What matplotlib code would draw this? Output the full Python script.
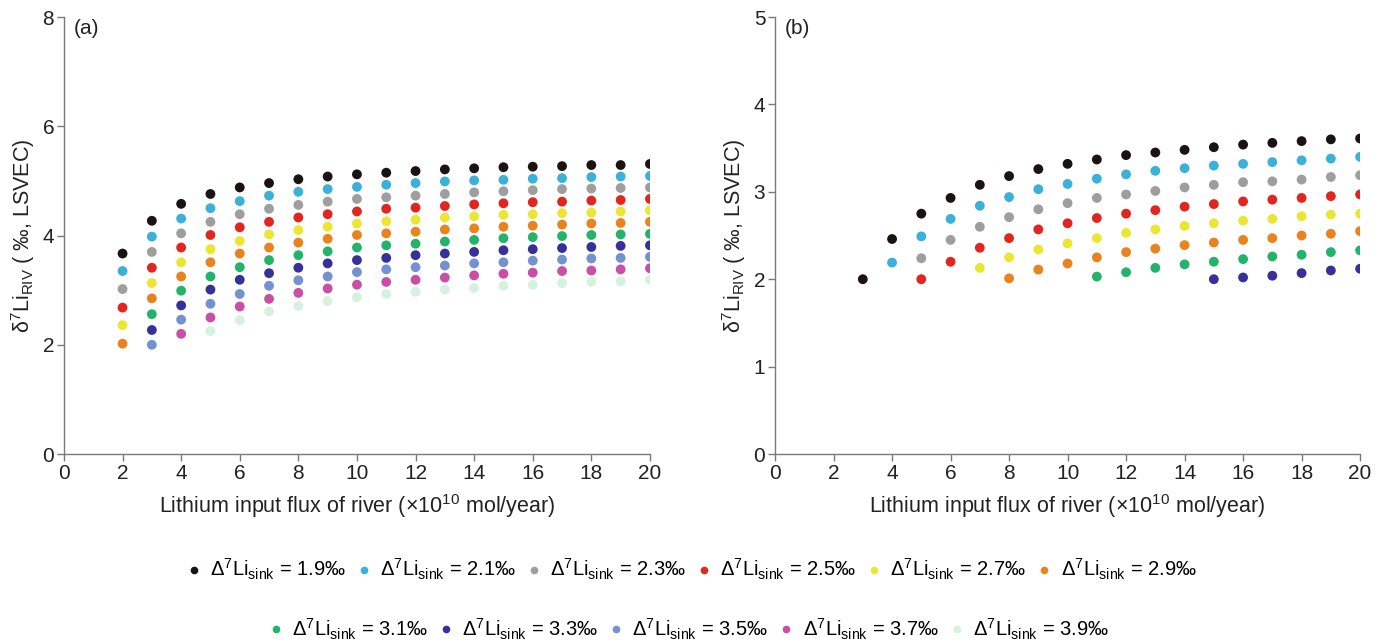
import numpy as np
import matplotlib
matplotlib.use("Agg")
import matplotlib.pyplot as plt
from matplotlib.lines import Line2D

plt.rcParams['font.family'] = ['Liberation Sans', 'DejaVu Sans']
plt.rcParams['mathtext.fontset'] = 'custom'
plt.rcParams['mathtext.rm'] = 'Liberation Sans'
plt.rcParams['mathtext.it'] = 'Liberation Sans:italic'
plt.rcParams['mathtext.bf'] = 'Liberation Sans:bold'

nan = np.nan

# Δ7Li_sink values and their colours
sink = ['1.9', '2.1', '2.3', '2.5', '2.7', '2.9', '3.1', '3.3', '3.5', '3.7', '3.9']
colors = ['#1a1311', '#3bb1d9', '#9e9e9e', '#e2261f', '#ebe632', '#e8831f',
          '#24b36a', '#38309a', '#7491d0', '#c94fa6', '#d6f2de']

# panel (a): river flux 2..20
flux_a = list(range(2, 21))
d7li_a = [
    [3.67, 4.27, 4.58, 4.76, 4.88, 4.96, 5.03, 5.08, 5.12, 5.15, 5.18, 5.21, 5.23, 5.25, 5.26, 5.27, 5.29, 5.29, 5.31],
    [3.35, 3.98, 4.31, 4.50, 4.63, 4.73, 4.80, 4.85, 4.89, 4.93, 4.96, 4.99, 5.01, 5.02, 5.04, 5.05, 5.07, 5.08, 5.09],
    [3.02, 3.70, 4.04, 4.25, 4.39, 4.49, 4.56, 4.62, 4.67, 4.70, 4.73, 4.76, 4.79, 4.81, 4.83, 4.85, 4.86, 4.87, 4.88],
    [2.68, 3.41, 3.78, 4.01, 4.15, 4.25, 4.33, 4.39, 4.44, 4.49, 4.51, 4.54, 4.57, 4.59, 4.61, 4.62, 4.64, 4.65, 4.67],
    [2.36, 3.13, 3.51, 3.75, 3.90, 4.02, 4.10, 4.16, 4.22, 4.26, 4.29, 4.33, 4.35, 4.38, 4.39, 4.41, 4.42, 4.44, 4.46],
    [2.02, 2.85, 3.25, 3.51, 3.67, 3.78, 3.87, 3.94, 4.01, 4.04, 4.07, 4.11, 4.13, 4.16, 4.18, 4.20, 4.22, 4.23, 4.25],
    [nan, 2.56, 2.99, 3.25, 3.42, 3.55, 3.64, 3.71, 3.78, 3.82, 3.85, 3.89, 3.92, 3.95, 3.97, 3.99, 4.01, 4.02, 4.03],
    [nan, 2.27, 2.72, 3.01, 3.19, 3.31, 3.41, 3.49, 3.55, 3.59, 3.64, 3.67, 3.70, 3.73, 3.75, 3.77, 3.79, 3.81, 3.82],
    [nan, 2.00, 2.46, 2.75, 2.93, 3.08, 3.18, 3.25, 3.33, 3.38, 3.42, 3.45, 3.49, 3.51, 3.54, 3.56, 3.58, 3.59, 3.61],
    [nan, nan, 2.20, 2.50, 2.70, 2.84, 2.95, 3.03, 3.10, 3.15, 3.19, 3.23, 3.27, 3.30, 3.32, 3.35, 3.36, 3.38, 3.40],
    [nan, nan, nan, 2.25, 2.45, 2.61, 2.71, 2.80, 2.87, 2.93, 2.97, 3.01, 3.04, 3.08, 3.10, 3.13, 3.15, 3.16, 3.19],
]

# panel (b): river flux 3..20
flux_b = list(range(3, 21))
d7li_b = [
    [2.00, 2.46, 2.75, 2.93, 3.08, 3.18, 3.26, 3.32, 3.37, 3.42, 3.45, 3.48, 3.51, 3.54, 3.56, 3.58, 3.60, 3.61],
    [nan, 2.19, 2.49, 2.69, 2.84, 2.94, 3.03, 3.09, 3.15, 3.20, 3.24, 3.27, 3.30, 3.32, 3.34, 3.36, 3.38, 3.40],
    [nan, nan, 2.24, 2.45, 2.60, 2.71, 2.80, 2.87, 2.93, 2.97, 3.01, 3.05, 3.08, 3.11, 3.12, 3.14, 3.17, 3.19],
    [nan, nan, 2.00, 2.20, 2.36, 2.47, 2.57, 2.64, 2.70, 2.75, 2.79, 2.83, 2.86, 2.89, 2.91, 2.93, 2.95, 2.97],
    [nan, nan, nan, nan, 2.13, 2.25, 2.34, 2.41, 2.47, 2.53, 2.57, 2.61, 2.64, 2.67, 2.69, 2.72, 2.74, 2.75],
    [nan, nan, nan, nan, nan, 2.01, 2.11, 2.18, 2.25, 2.31, 2.35, 2.39, 2.42, 2.45, 2.47, 2.50, 2.52, 2.55],
    [nan, nan, nan, nan, nan, nan, nan, nan, 2.03, 2.08, 2.13, 2.17, 2.20, 2.23, 2.26, 2.28, 2.31, 2.33],
    [nan, nan, nan, nan, nan, nan, nan, nan, nan, nan, nan, nan, 2.00, 2.02, 2.04, 2.07, 2.10, 2.12],
]

fig = plt.figure(figsize=(13.87, 6.42), dpi=100)
ax_a = fig.add_axes([0.0461, 0.2928, 0.4225, 0.6807])
ax_b = fig.add_axes([0.5588, 0.2928, 0.4218, 0.6807])

spine_c = '#7a7a7a'
txt_c = '#222222'
xlab = r'Lithium input flux of river (×10$^{10}$ mol/year)'
ylab = r'δ$^{7}$Li$_{\rm RIV}$ ( ‰, LSVEC)'

for ax, xs, data, ymax, tag in [(ax_a, flux_a, d7li_a, 8, '(a)'),
                                 (ax_b, flux_b, d7li_b, 5, '(b)')]:
    for i, ys in enumerate(data):
        ax.scatter(xs, ys, s=50, color=colors[i], edgecolors='none', zorder=3)
    ax.set_xlim(0, 20)
    ax.set_ylim(0, ymax)
    ax.set_xticks(range(0, 21, 2))
    ax.set_yticks(range(0, ymax + 1, 2 if ymax == 8 else 1))
    for s in ['top', 'right']:
        ax.spines[s].set_visible(False)
    for s in ['left', 'bottom']:
        ax.spines[s].set_color(spine_c)
        ax.spines[s].set_linewidth(1.0)
    ax.tick_params(direction='out', length=5, width=1.0, color=spine_c,
                   labelsize=15, labelcolor=txt_c, pad=2)
    ax.set_xlabel(xlab, fontsize=15.5, color=txt_c, labelpad=7)
    ax.set_ylabel(ylab, fontsize=15.5, color=txt_c, labelpad=4)
    ax.text(0.017, 0.995, tag, transform=ax.transAxes, fontsize=15,
            color=txt_c, va='top', ha='left')

handles = [Line2D([], [], linestyle='none', marker='o', markersize=5.5,
                  markerfacecolor=c, markeredgecolor='none') for c in colors]
labels = [r'Δ$^{7}$Li$_{\rm sink}$ = ' + v + '‰' for v in sink]

leg_kw = dict(frameon=False, fontsize=14.5, handlelength=0.6, handletextpad=0.5,
              columnspacing=0.6, borderaxespad=0)
fig.legend(handles[:6], labels[:6], ncol=6, loc='center',
           bbox_to_anchor=(0.499, 0.113), **leg_kw)
fig.legend(handles[6:], labels[6:], ncol=5, loc='center',
           bbox_to_anchor=(0.497, 0.02), **leg_kw)

fig.savefig('out.png', dpi=100)
